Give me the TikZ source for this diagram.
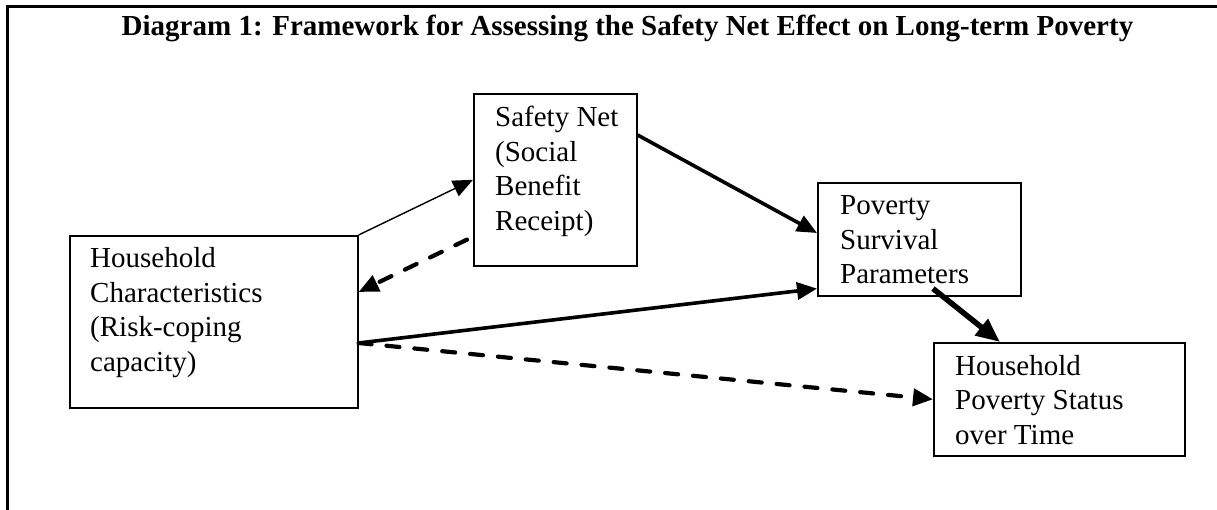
\documentclass[tikz,border=0pt]{standalone}
\usepackage{fontspec}
\setmainfont{Liberation Serif}
\usetikzlibrary{arrows.meta,calc}
% stacked, left-aligned lines whose baseline is the first line's
\newcommand{\boxlines}[1]{\begin{tabular}[t]{@{}l@{}}#1\end{tabular}}
\begin{document}
\begin{tikzpicture}[x=1pt,y=-1pt,
  boxframe/.style={draw, line width=1.6pt, inner sep=0pt, anchor=north west},
  boxtext/.style={anchor=base west, inner sep=0pt, font=\fontsize{29}{34.5}\selectfont},
  thinlink/.style={line width=1.4pt, -{Triangle[length=20pt,width=17pt]}},
  thicklink/.style={line width=3.6pt, -{Triangle[length=20pt,width=17pt]}},
  heavylink/.style={line width=5.5pt, -{Triangle[length=24pt,width=20pt]}},
  dashlink/.style={line width=4.2pt, line cap=round, dash pattern=on 13pt off 15pt,
                   -{Triangle[length=20pt,width=17pt]}},
]
\useasboundingbox (0,0) rectangle (1217,510);

% outer frame (left and top rules)
\draw[line width=3pt] (7,510) -- (7,7) -- (1217,7);

% heading
\node[anchor=base, inner sep=0pt, font=\bfseries\fontsize{29}{34.5}\selectfont] (title) at (627.5,36)
  {Diagram 1: Framework for Assessing the Safety Net Effect on Long-term Poverty};

% boxes
\node[boxframe, minimum width=288pt, minimum height=172pt] (hc)  at (69,235)  {};
\node[boxframe, minimum width=163pt, minimum height=172pt] (sn)  at (473,93)  {};
\node[boxframe, minimum width=203pt, minimum height=113pt] (psp) at (817,182) {};
\node[boxframe, minimum width=251pt, minimum height=113pt] (hps) at (933,342) {};

% box texts
\node[boxtext] (hctext)  at (90,268)  {\boxlines{Household\\Characteristics\\(Risk-coping\\capacity)}};
\node[boxtext] (sntext)  at (495,127) {\boxlines{Safety Net\\(Social\\Benefit\\Receipt)}};
\node[boxtext] (psptext) at (840,215) {\boxlines{Poverty\\Survival\\Parameters}};
\node[boxtext] (hpstext) at (955,375) {\boxlines{Household\\Poverty Status\\over Time}};

% connectors
\draw[thinlink]  (hc.north east) -- (sn.west);
\draw[dashlink]  ($(sn.south west)+(-6,-27)$) -- ($(hc.north east)+(0,57)$);
\draw[thicklink] ($(sn.north east)+(0,42)$) -- ($(psp.north west)+(0,51)$);
\draw[thicklink] ($(hc.north east)+(0,108)$) -- ($(psp.south west)+(0,-8)$);
\draw[dashlink]  ($(hc.north east)+(0,108)$) -- (hps.west);
\draw[heavylink] ($(psp.south west)+(116,-8)$) -- ($(hps.north west)+(67,0)$);
\end{tikzpicture}
\end{document}
